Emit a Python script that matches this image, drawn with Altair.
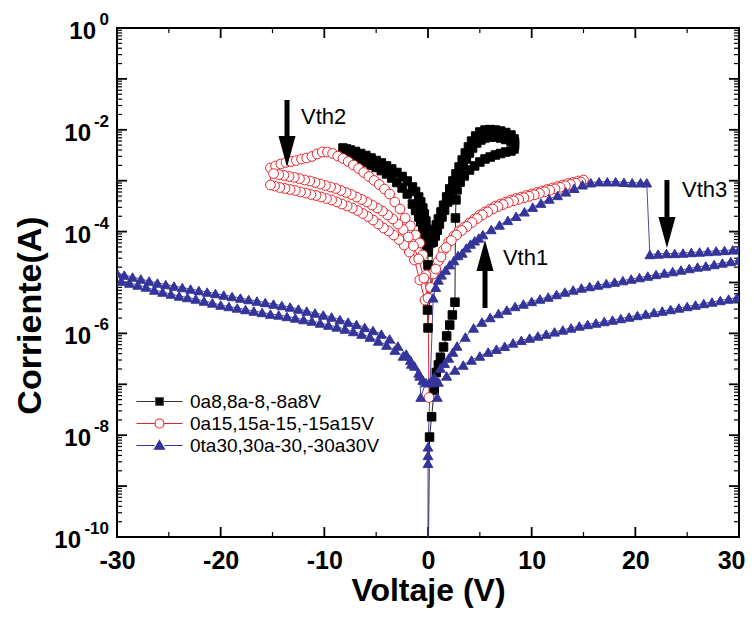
import altair as alt
import pandas as pd

# ---------------- data ----------------
SERIES = ["0a8,8a-8,-8a8V", "0a15,15a-15,-15a15V", "0ta30,30a-30,-30a30V"]

# black squares, sweep 0->8->-8->8 (Voltage V, Current A)
BK1_V = [0.0, 0.15, 0.35, 0.6, 0.8, 1.0, 1.2, 1.5, 1.8, 2.1, 2.35, 2.6, 2.65, 2.7]
BK1_I = [1e-11, 9.2e-9, 2.3e-8, 7.7e-8, 1.7e-7, 2.4e-7, 3.4e-7, 5.4e-7, 8.9e-7, 1.46e-6, 2.3e-6, 4.1e-6, 1.85e-4, 4.2e-4]
BK2_V = [2.8, 3.1, 3.5, 4.0, 4.5, 5.0, 5.5, 6.0, 6.5, 7.0, 7.5, 8.0, 8.3, 8.35, 8.35]
BK2_I = [6.6e-4, 9.4e-4, 1.24e-3, 1.62e-3, 1.95e-3, 2.33e-3, 2.67e-3, 2.92e-3, 3.2e-3, 3.42e-3, 3.66e-3, 3.83e-3, 4.2e-3, 5.0e-3, 5.75e-3]
BK3_V = [8.3, 8.0, 7.5, 7.0, 6.5, 6.0, 5.5, 5.0, 4.6, 4.2, 3.9, 3.6, 3.3, 3.0, 2.7, 2.4, 2.1, 1.8, 1.5, 1.25, 1.0, 0.8, 0.6, 0.45, 0.3]
BK3_I = [6.6e-3, 7.9e-3, 8.85e-3, 9.46e-3, 9.9e-3, 1.01e-2, 9.9e-3, 9.06e-3, 7.55e-3, 6.0e-3, 4.6e-3, 3.5e-3, 2.55e-3, 1.86e-3, 1.36e-3, 9.9e-4, 6.9e-4, 4.8e-4, 3.3e-4, 2.43e-4, 1.77e-4, 1.35e-4, 1.03e-4, 7.8e-5, 6.0e-5]
BK4_V = [0.0, -0.1, -0.2, -0.35, -0.5, -0.7, -0.9, -1.2, -1.5, -2.0, -2.5, -3.0, -3.5, -4.0, -4.5, -5.0, -5.5, -6.0, -6.5, -7.0, -7.5, -7.85, -8.2]
BK4_I = [3.97e-5, 5.45e-5, 7.16e-5, 9.4e-5, 1.18e-4, 1.55e-4, 1.94e-4, 2.6e-4, 3.48e-4, 5.48e-4, 7.19e-4, 9.22e-4, 1.13e-3, 1.36e-3, 1.58e-3, 1.82e-3, 2.03e-3, 2.33e-3, 2.55e-3, 2.79e-3, 2.99e-3, 3.17e-3, 3.35e-3]
BK5_V = [-8.2, -7.85, -7.5, -7.0, -6.5, -6.0, -5.5, -5.0, -4.5, -4.0, -3.5, -3.0, -2.5, -2.0, -1.5, -1.2, -0.9, -0.7, -0.5, -0.35, -0.2, -0.1, 0.0, 0.0, -0.05, 0.0]
BK5_I = [4.39e-3, 4.2e-3, 4.01e-3, 3.75e-3, 3.42e-3, 3.13e-3, 2.79e-3, 2.49e-3, 2.23e-3, 1.95e-3, 1.7e-3, 1.45e-3, 1.21e-3, 9.87e-4, 7.52e-4, 6.14e-4, 4.78e-4, 3.82e-4, 2.91e-4, 2.22e-4, 1.61e-4, 1.12e-4, 7.48e-5, 2.21e-5, 2.88e-6, 1.28e-6]
BK6_V = [0.5, 0.7, 0.9, 1.1, 1.35, 1.6, 1.9, 2.2, 2.5, 2.8, 3.1, 3.4, 3.7, 4.0, 4.3, 4.7, 5.1, 5.5, 6.0, 6.5, 7.0, 7.5, 8.0, 8.3]
BK6_I = [6.25e-5, 8.2e-5, 1.07e-4, 1.41e-4, 1.94e-4, 2.65e-4, 3.82e-4, 5.48e-4, 7.87e-4, 1.08e-3, 1.48e-3, 2.03e-3, 2.67e-3, 3.5e-3, 4.39e-3, 5.51e-3, 6.31e-3, 6.9e-3, 7.22e-3, 7.22e-3, 6.9e-3, 6.45e-3, 6.02e-3, 5.51e-3]

# red circles, sweep 0->15->-15->15
RD1_V = [0.1, 0.0, 0.5, 1.0, 1.5, 2.0, 2.5, 3.0, 3.5, 4.0, 4.5, 5.0, 5.5, 6.0, 6.5, 7.0, 7.5, 8.0, 8.5, 9.0, 9.5, 10.0, 10.5, 11.0, 11.5, 12.0, 12.5, 13.0, 13.5, 14.0, 14.5, 15.0]
RD1_I = [5.5e-8, 4.96e-6, 1.47e-5, 2.64e-5, 4.35e-5, 6.25e-5, 8.2e-5, 1.03e-4, 1.23e-4, 1.48e-4, 1.77e-4, 2.12e-4, 2.43e-4, 2.78e-4, 3.18e-4, 3.48e-4, 3.82e-4, 4.18e-4, 4.47e-4, 4.78e-4, 5.12e-4, 5.48e-4, 5.86e-4, 6.28e-4, 6.72e-4, 7.19e-4, 7.69e-4, 8.24e-4, 8.81e-4, 9.22e-4, 9.87e-4, 1.03e-3]
RD2_V = [14.75, 14.25, 13.75, 13.25, 12.75, 12.25, 11.75, 11.25, 10.75, 10.25, 9.75, 9.25, 8.75, 8.25, 7.75, 7.25, 6.75, 6.25, 5.75, 5.25, 4.75, 4.25, 3.75, 3.25, 2.75, 2.25, 1.75, 1.25, 0.75, 0.25]
RD2_I = [9.42e-4, 8.89e-4, 8.41e-4, 7.94e-4, 7.42e-4, 6.93e-4, 6.48e-4, 6.05e-4, 5.65e-4, 5.28e-4, 4.94e-4, 4.61e-4, 4.31e-4, 4.03e-4, 3.73e-4, 3.40e-4, 3.11e-4, 2.78e-4, 2.43e-4, 2.12e-4, 1.81e-4, 1.51e-4, 1.26e-4, 1.05e-4, 8.57e-5, 6.68e-5, 4.88e-5, 3.17e-5, 1.84e-5, 7.97e-6]
RD3_V = [-0.3, -0.8, -1.3, -1.8, -2.3, -2.8, -3.3, -3.8, -4.3, -4.8, -5.3, -5.8, -6.3, -6.8, -7.3, -7.8, -8.3, -8.8, -9.3, -9.8, -10.3, -10.8, -11.3, -11.8, -12.3, -12.8, -13.3, -13.8, -14.3, -14.8, -15.2]
RD3_I = [4.53e-6, 1.12e-5, 2.77e-5, 3.97e-5, 5.45e-5, 7.0e-5, 8.57e-5, 1.03e-4, 1.18e-4, 1.41e-4, 1.69e-4, 1.98e-4, 2.27e-4, 2.60e-4, 2.91e-4, 3.18e-4, 3.48e-4, 3.82e-4, 4.18e-4, 4.47e-4, 4.78e-4, 5.12e-4, 5.36e-4, 5.73e-4, 6.0e-4, 6.42e-4, 6.72e-4, 7.03e-4, 7.35e-4, 7.87e-4, 8.24e-4]
RD4_V = [-15.2, -14.7, -14.2, -13.7, -13.2, -12.7, -12.2, -11.7, -11.2, -10.7, -10.2, -9.7, -9.2, -8.7, -8.2, -7.7, -7.2, -6.7, -6.2, -5.7, -5.2, -4.7, -4.2, -3.7, -3.2, -2.7, -2.2, -1.7, -1.2, -0.8, -0.5, -0.2]
RD4_I = [1.78e-3, 1.95e-3, 2.13e-3, 2.28e-3, 2.38e-3, 2.49e-3, 2.67e-3, 2.79e-3, 2.99e-3, 3.35e-3, 3.66e-3, 3.66e-3, 3.42e-3, 3.05e-3, 2.73e-3, 2.38e-3, 2.03e-3, 1.74e-3, 1.45e-3, 1.21e-3, 1.01e-3, 8.41e-4, 6.87e-4, 5.48e-4, 3.82e-4, 2.78e-4, 1.85e-4, 1.29e-4, 8.57e-5, 5.97e-5, 3.47e-5, 1.40e-5]
RD5_V = [0.0, -0.4, -0.9, -1.4, -1.9, -2.4, -2.9, -3.4, -3.9, -4.4, -4.9, -5.4, -5.9, -6.4, -6.9, -7.4, -7.9, -8.4, -8.9, -9.4, -9.9, -10.4, -10.9, -11.4, -11.9, -12.4, -12.9, -13.4, -13.9, -14.4, -14.9]
RD5_I = [4.96e-6, 1.22e-5, 2.90e-5, 5.21e-5, 7.83e-5, 1.10e-4, 1.41e-4, 1.77e-4, 2.12e-4, 2.54e-4, 2.91e-4, 3.33e-4, 3.82e-4, 4.28e-4, 4.78e-4, 5.36e-4, 5.86e-4, 6.42e-4, 7.03e-4, 7.52e-4, 8.05e-4, 8.61e-4, 9.22e-4, 9.87e-4, 1.03e-3, 1.10e-3, 1.16e-3, 1.21e-3, 1.27e-3, 1.32e-3, 1.38e-3]

# blue triangles, sweep 0->30->-30->30
BL1_V = [0.0, 0.0, 0.0, 0.0]
BL1_I = [1e-11, 2.8e-9, 4.0e-9, 5.9e-9]
BL2_V = [0.5, 0.75, 1.0, 1.3, 1.7, 2.1, 2.5, 2.9, 3.3, 3.7, 4.1, 4.5, 4.9, 5.3, 6.1, 6.9, 7.7, 8.5, 9.3, 10.1, 10.9, 11.7, 12.5, 13.3, 14.1, 14.9, 15.7, 16.5, 17.3, 18.1, 18.9, 19.7, 20.5, 21.1]
BL2_I = [5.0e-6, 8.1e-6, 1.12e-5, 1.41e-5, 1.76e-5, 2.24e-5, 2.7e-5, 3.39e-5, 3.8e-5, 4.79e-5, 5.7e-5, 6.61e-5, 7.5e-5, 8.71e-5, 1.10e-4, 1.35e-4, 1.66e-4, 2.0e-4, 2.45e-4, 3.02e-4, 3.63e-4, 4.37e-4, 5.13e-4, 6.03e-4, 7.08e-4, 8.32e-4, 9.12e-4, 9.55e-4, 9.55e-4, 9.55e-4, 9.33e-4, 9.12e-4, 9.12e-4, 9.12e-4]
BL3_V = [21.4, 22.2, 23.0, 23.8, 24.6, 25.4, 26.2, 27.0, 27.8, 28.6, 29.4, 30.0]
BL3_I = [3.55e-5, 3.63e-5, 3.72e-5, 3.72e-5, 3.80e-5, 3.89e-5, 3.98e-5, 4.07e-5, 4.17e-5, 4.27e-5, 4.37e-5, 4.47e-5]
BL4_V = [30.0, 29.2, 28.4, 27.6, 26.8, 26.0, 25.2, 24.4, 23.6, 22.8, 22.0, 21.2, 20.4, 19.6, 18.8, 18.0, 17.2, 16.4, 15.6, 14.8, 14.0, 13.2, 12.4, 11.6, 10.8, 10.0, 9.2, 8.4, 7.6, 6.8, 6.0, 5.2, 4.4, 3.6, 2.8, 2.4, 2.0, 1.6, 1.2, 0.6, 0.1]
BL4_I = [2.77e-5, 2.59e-5, 2.42e-5, 2.26e-5, 2.11e-5, 2.02e-5, 1.88e-5, 1.76e-5, 1.64e-5, 1.54e-5, 1.44e-5, 1.34e-5, 1.25e-5, 1.17e-5, 1.09e-5, 1.02e-5, 9.55e-6, 8.93e-6, 8.34e-6, 7.80e-6, 7.13e-6, 6.50e-6, 5.81e-6, 5.19e-6, 4.74e-6, 4.24e-6, 3.78e-6, 3.38e-6, 2.88e-6, 2.46e-6, 2.05e-6, 1.67e-6, 1.28e-6, 8.5e-7, 5.65e-7, 4.3e-7, 3.29e-7, 2.6e-7, 2.09e-7, 1.39e-7, 1.08e-7]
BL5_V = [-0.5, -0.9, -1.3, -1.7, -2.1, -2.9, -3.7, -4.5, -5.3, -6.1, -6.9, -7.7, -8.5, -9.3, -10.1, -10.9, -11.7, -12.5, -13.3, -14.1, -14.9, -15.7, -16.5, -17.3, -18.1, -18.9, -19.7, -20.5, -21.3, -22.1, -22.9, -23.7, -24.5, -25.3, -26.1, -26.9, -27.7, -28.5, -29.3, -30.0]
BL5_I = [1.21e-7, 1.67e-7, 2.29e-7, 3.0e-7, 3.94e-7, 5.65e-7, 7.8e-7, 9.7e-7, 1.14e-6, 1.31e-6, 1.50e-6, 1.67e-6, 1.87e-6, 2.10e-6, 2.30e-6, 2.52e-6, 2.75e-6, 3.01e-6, 3.30e-6, 3.53e-6, 3.78e-6, 4.05e-6, 4.33e-6, 4.63e-6, 4.96e-6, 5.31e-6, 5.68e-6, 6.08e-6, 6.50e-6, 6.96e-6, 7.45e-6, 7.97e-6, 8.53e-6, 9.13e-6, 9.77e-6, 1.07e-5, 1.17e-5, 1.28e-5, 1.40e-5, 1.54e-5]
BL6_V = [-29.6, -28.8, -28.0, -27.2, -26.4, -25.6, -24.8, -24.0, -23.2, -22.4, -21.6, -20.8, -20.0, -19.2, -18.4, -17.6, -16.8, -16.0, -15.2, -14.4, -13.6, -12.8, -12.0, -11.2, -10.4, -9.6, -8.8, -8.0, -7.2, -6.4, -5.6, -4.8, -4.0, -3.2, -2.4, -1.6, -0.8, -0.7, -0.2, 0.4, 0.9]
BL6_I = [1.07e-5, 9.77e-6, 8.93e-6, 8.16e-6, 7.13e-6, 6.50e-6, 5.94e-6, 5.43e-6, 5.07e-6, 4.74e-6, 4.33e-6, 3.96e-6, 3.61e-6, 3.38e-6, 3.16e-6, 2.95e-6, 2.75e-6, 2.58e-6, 2.40e-6, 2.30e-6, 2.15e-6, 2.01e-6, 1.87e-6, 1.75e-6, 1.60e-6, 1.46e-6, 1.34e-6, 1.22e-6, 1.09e-6, 9.7e-7, 8.5e-7, 7.1e-7, 5.9e-7, 4.7e-7, 3.6e-7, 2.5e-7, 1.46e-7, 5.6e-8, 1.08e-7, 1.08e-7, 5.6e-8]
BL7_V = [1.0, 1.8, 2.6, 3.4, 4.2, 5.0, 5.8, 6.6, 7.4, 8.2, 9.0, 9.8, 10.6, 11.4, 12.2, 13.0, 13.8, 14.6, 15.4, 16.2, 17.0, 17.8, 18.6, 19.4, 20.2, 21.0, 21.8, 22.6, 23.4, 24.2, 25.0, 25.8, 26.6, 27.4, 28.2, 29.0, 29.8]
BL7_I = [1.11e-7, 1.46e-7, 1.91e-7, 2.39e-7, 3.0e-7, 3.6e-7, 4.3e-7, 4.9e-7, 5.6e-7, 6.5e-7, 7.3e-7, 8.1e-7, 8.9e-7, 9.7e-7, 1.07e-6, 1.17e-6, 1.28e-6, 1.40e-6, 1.50e-6, 1.60e-6, 1.71e-6, 1.83e-6, 1.96e-6, 2.10e-6, 2.25e-6, 2.40e-6, 2.58e-6, 2.75e-6, 2.95e-6, 3.16e-6, 3.38e-6, 3.61e-6, 3.87e-6, 4.14e-6, 4.43e-6, 4.74e-6, 5.07e-6]

# annotations (arrows and their labels)
ARROW_LABEL = ["Vth2", "Vth1", "Vth3"]
ARROW_V = [-13.6, 5.5, 23.05]
ARROW_TAIL = [3.85e-2, 3.16e-6, 1.03e-3]
ARROW_BASE = [6.3e-3, 1.76e-5, 1.69e-4]
ARROW_HEAD = [3.75e-3, 3.39e-5, 9.6e-5]
ARROW_DIR = ["down", "up", "down"]
TEXT_V = [-12.25, 7.23, 24.5]
TEXT_I = [1.78e-2, 3.03e-5, 6.56e-4]

# y tick labels: 10 with a raised exponent
DECADES = [1, 1e-2, 1e-4, 1e-6, 1e-8, 1e-10]
EXPONENTS = ["0", "-2", "-4", "-6", "-8", "-10"]

# ---------------- build tables ----------------
def series_rows(name, parts):
    rows, k = [], 0
    for vs, cs in parts:
        for v, c in zip(vs, cs):
            rows.append({"V": v, "I": c, "s": name, "k": k})
            k += 1
    return rows

rows = []
rows += series_rows(SERIES[0], [(BK1_V, BK1_I), (BK2_V, BK2_I), (BK3_V, BK3_I), (BK4_V, BK4_I), (BK5_V, BK5_I), (BK6_V, BK6_I)])
rows += series_rows(SERIES[1], [(RD1_V, RD1_I), (RD2_V, RD2_I), (RD3_V, RD3_I), (RD4_V, RD4_I), (RD5_V, RD5_I)])
rows += series_rows(SERIES[2], [(BL1_V, BL1_I), (BL2_V, BL2_I), (BL3_V, BL3_I), (BL4_V, BL4_I), (BL5_V, BL5_I), (BL6_V, BL6_I), (BL7_V, BL7_I)])
df = pd.DataFrame(rows)

ann = pd.DataFrame({"lab": ARROW_LABEL, "V": ARROW_V, "tail": ARROW_TAIL, "base": ARROW_BASE,
                    "head": ARROW_HEAD, "dir": ARROW_DIR})
txt = pd.DataFrame({"lab": ARROW_LABEL, "V": TEXT_V, "I": TEXT_I})
dec = pd.DataFrame({"d": DECADES, "e": EXPONENTS, "n": [len(e) for e in EXPONENTS]})

Y_MAJOR = [10.0 ** e for e in range(-10, 1)]
Y_MINOR = [k * 10.0 ** e for e in range(-10, 0) for k in range(2, 10)]
X_MAJOR = [-30, -20, -10, 0, 10, 20, 30]
X_MINOR = [-25, -15, -5, 5, 15, 25]

W, H = 622, 509
FONT = "Liberation Sans"
BLUE = "#34349a"
RED = "#e8242a"

XS = alt.Scale(domain=[-30, 30], nice=False, zero=False)
YS = alt.Scale(type="log", domain=[1e-10, 1], nice=False)

XA = alt.Axis(title="Voltaje (V)", values=X_MAJOR, labelExpr="'' + datum.value",
              ticks=False, domain=False, grid=False, labelFlush=False, labelOverlap=False,
              labelAlign=alt.condition("datum.value == 30", alt.value("right"), alt.value("center")),
              labelOffset=alt.condition("datum.value == 30", alt.value(6), alt.value(0)),
              labelFont=FONT, labelFontSize=25, labelFontWeight="bold", labelPadding=11,
              titleFont=FONT, titleFontSize=32, titleFontWeight="bold",
              titleY=63, titleBaseline="alphabetic")
YA = alt.Axis(title="Corriente(A)", values=DECADES, labels=False,
              ticks=False, domain=False, grid=False,
              titleFont=FONT, titleFontSize=34, titleFontWeight="bold",
              titleX=-87, titleY=287, titleAngle=270, titleBaseline="middle", titleAlign="center")

def X(f):
    return alt.X(f, type="quantitative", scale=XS, axis=XA)

def Y(f):
    return alt.Y(f, type="quantitative", scale=YS, axis=YA)

# legend symbols: a short line through the marker
SQ = "M-4.6,0L-0.75,0M0.75,0L4.6,0M-0.75,-0.75L0.75,-0.75L0.75,0.75L-0.75,0.75Z"
CI = "M-4.6,0L-0.9,0M0.9,0L4.6,0M0.9,0A0.9,0.9,0,1,1,-0.9,0A0.9,0.9,0,1,1,0.9,0Z"
TR = "M-4.6,0L-1,0M1,0L4.6,0M0,-1L1,0.75L-1,0.75Z"

LEG = alt.Legend(title=None, orient="none", legendX=33, legendY=364, padding=0,
                 symbolSize=100, symbolStrokeWidth=1.2, labelFont=FONT, labelFontSize=19,
                 labelColor="black", labelOffset=21, rowPadding=2, labelLimit=400)

STY = {
    SERIES[0]: dict(shape="square", size=72, fill="black", stroke="black", line="#222222"),
    SERIES[1]: dict(shape="circle", size=95, fill="white", stroke=RED, line=RED),
    SERIES[2]: dict(shape="triangle-up", size=95, fill=BLUE, stroke=BLUE, line="#4a4aaa"),
}
line_layers, point_layers = [], []
for name in SERIES:
    st = STY[name]
    sub = df[df["s"] == name]
    line_layers.append(
        alt.Chart(sub).mark_line(strokeWidth=1, clip=True, color=st["line"]).encode(
            x=X("V"), y=Y("I"), order="k:Q")
    )
    point_layers.append(
        alt.Chart(sub).mark_point(
            opacity=1, strokeWidth=1, clip=True, shape=st["shape"], size=st["size"],
            fill=st["fill"], stroke=st["stroke"]).encode(x=X("V"), y=Y("I"))
    )

# legend-only layer: one row per series, placed below the axis range and clipped away
leg_df = pd.DataFrame({"s": SERIES, "V": [0, 0, 0], "I": [1e-13, 1e-13, 1e-13]})
legend_layer = alt.Chart(leg_df).mark_point(opacity=1, strokeWidth=1.2, clip=True).encode(
    x=X("V"), y=Y("I"),
    shape=alt.Shape("s:N", scale=alt.Scale(domain=SERIES, range=[SQ, CI, TR]), legend=LEG),
    fill=alt.Fill("s:N", scale=alt.Scale(domain=SERIES, range=["black", "white", BLUE]), legend=LEG),
    stroke=alt.Stroke("s:N", scale=alt.Scale(domain=SERIES, range=["#333333", RED, BLUE]), legend=LEG),
)

def yticks(vals, x0, x1, w):
    return alt.Chart(pd.DataFrame({"t": vals})).mark_rule(color="black", strokeWidth=w).encode(
        y=Y("t"), x=alt.value(x0), x2=alt.value(x1))

def xticks(vals, y0, y1, w):
    return alt.Chart(pd.DataFrame({"t": vals})).mark_rule(color="black", strokeWidth=w).encode(
        x=X("t"), y=alt.value(y0), y2=alt.value(y1))

ticks = [
    yticks(Y_MAJOR, 0, 10, 1.8), yticks(Y_MINOR, 0, 5, 1.2),
    yticks(Y_MAJOR, W, W - 10, 1.8), yticks(Y_MINOR, W, W - 5, 1.2),
    xticks(X_MAJOR, H, H - 10, 1.8), xticks(X_MINOR, H, H - 5, 1.2),
    xticks(X_MAJOR, 0, 10, 1.8), xticks(X_MINOR, 0, 5, 1.2),
]

# y tick labels
exp_layer = alt.Chart(dec).mark_text(align="right", baseline="alphabetic", dy=-3, font=FONT,
                                     fontSize=17, fontWeight="bold", color="black").encode(
    y=Y("d"), x=alt.value(-8), text="e:N")
base_layers = []
for n, xb in [(1, -21), (2, -26), (3, -36)]:
    base_layers.append(
        alt.Chart(dec).transform_filter("datum.n == %d" % n).mark_text(
            align="right", baseline="alphabetic", dy=11, font=FONT, fontSize=24,
            fontWeight="bold", color="black").encode(y=Y("d"), x=alt.value(xb), text=alt.value("10"))
    )

shafts = alt.Chart(ann).mark_rule(color="black", strokeWidth=5).encode(
    x=X("V"), y=Y("tail"), y2="base")
HEAD_DOWN = "M-0.55,-1L0.55,-1L0,1Z"
HEAD_UP = "M-0.55,1L0.55,1L0,-1Z"
heads_down = alt.Chart(ann).transform_filter("datum.dir == 'down'").mark_point(
    shape=HEAD_DOWN, size=961, filled=True, color="black", opacity=1, strokeWidth=0).encode(
    x=X("V"), y=Y("head"))
heads_up = alt.Chart(ann).transform_filter("datum.dir == 'up'").mark_point(
    shape=HEAD_UP, size=961, filled=True, color="black", opacity=1, strokeWidth=0).encode(
    x=X("V"), y=Y("head"))
labels = alt.Chart(txt).mark_text(align="left", baseline="middle", font=FONT, fontSize=22,
                                  color="black").encode(x=X("V"), y=Y("I"), text="lab:N")

chart = alt.layer(*ticks, *line_layers, *point_layers, legend_layer, exp_layer, *base_layers,
                  shafts, heads_down, heads_up, labels).properties(
    width=W, height=H,
    autosize=alt.AutoSizeParams(type="none"),
    padding={"left": 109, "top": 20, "right": 7, "bottom": 75},
).configure_view(stroke="black", strokeWidth=2).configure_axis(labelColor="black", titleColor="black")

chart.save("out.html", embed_options={"renderer": "svg", "actions": False})
